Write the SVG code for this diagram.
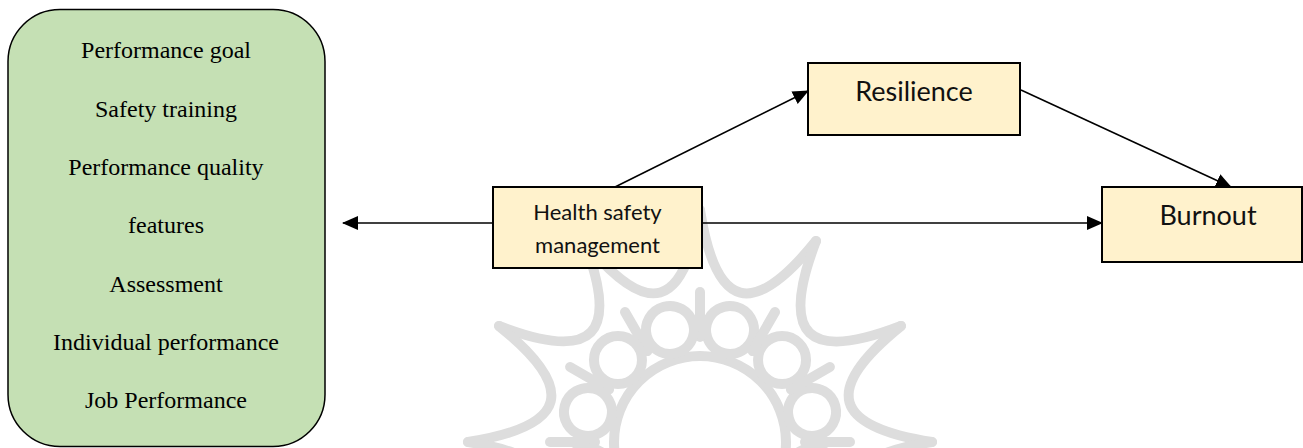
<svg xmlns="http://www.w3.org/2000/svg" width="1303" height="448" viewBox="0 0 1303 448">
<style>
.box{fill:#fff2cc;stroke:#000;stroke-width:2}
.serif{font-family:"Liberation Serif",serif;font-size:24px;fill:#000;text-anchor:middle}
.sans{font-family:Lato,"Open Sans",sans-serif;fill:#111;text-anchor:middle}
.edge{stroke:#000;stroke-width:1.6;fill:none;marker-end:url(#ah)}
.wm{fill:none;stroke:#dddddd;stroke-width:10;stroke-linecap:round}
</style>
<defs>
<marker id="ah" markerUnits="userSpaceOnUse" markerWidth="16" markerHeight="14" refX="15" refY="7" orient="auto">
<path d="M0,0 L16,7 L0,14 z" fill="#000"/>
</marker>
<g id="wmcell">
<circle cx="0" cy="-116" r="24" transform="rotate(15)" class="wm"/>
<path class="wm" d="M0,-232 C16,-131 53,-123 116,-201"/>
<path class="wm" d="M0,-150 L0,-105"/>
</g>
</defs>
<g id="watermark">
<circle cx="700" cy="442" r="86" class="wm" stroke-width="16"/>
<g transform="translate(700,442)">
<use href="#wmcell" transform="rotate(0)"/>
<use href="#wmcell" transform="rotate(30)"/>
<use href="#wmcell" transform="rotate(60)"/>
<use href="#wmcell" transform="rotate(90)"/>
<use href="#wmcell" transform="rotate(-30)"/>
<use href="#wmcell" transform="rotate(-60)"/>
<use href="#wmcell" transform="rotate(-90)"/>
<use href="#wmcell" transform="rotate(-120)"/>
<use href="#wmcell" transform="rotate(120)"/>
</g>
</g>
<g id="connectors">
<line class="edge" x1="493" y1="223" x2="343" y2="223"/>
<line class="edge" x1="702" y1="223" x2="1102" y2="223"/>
<line class="edge" x1="613" y1="188" x2="808" y2="91"/>
<line class="edge" x1="1021" y1="90" x2="1231" y2="187"/>
</g>
<g id="performance">
<rect x="8" y="9.5" width="317" height="437" rx="52" ry="52" fill="#c5e0b4" stroke="#000" stroke-width="1.5"/>
<text class="serif" x="166" y="58">Performance goal</text>
<text class="serif" x="166" y="117">Safety training</text>
<text class="serif" x="166" y="175">Performance quality</text>
<text class="serif" x="166" y="233">features</text>
<text class="serif" x="166" y="292">Assessment</text>
<text class="serif" x="166" y="350">Individual performance</text>
<text class="serif" x="166" y="408">Job Performance</text>
</g>
<g id="health">
<rect class="box" x="493" y="187" width="209" height="81"/>
<text class="sans" x="597.5" y="220" font-size="22">Health safety</text>
<text class="sans" x="597.5" y="253" font-size="22">management</text>
</g>
<g id="resilience">
<rect class="box" x="808" y="63" width="212" height="72"/>
<text class="sans" x="914" y="101" font-size="27">Resilience</text>
</g>
<g id="burnout">
<rect class="box" x="1102" y="187" width="200" height="75"/>
<text class="sans" x="1208" y="225" font-size="27">Burnout</text>
</g>
</svg>
